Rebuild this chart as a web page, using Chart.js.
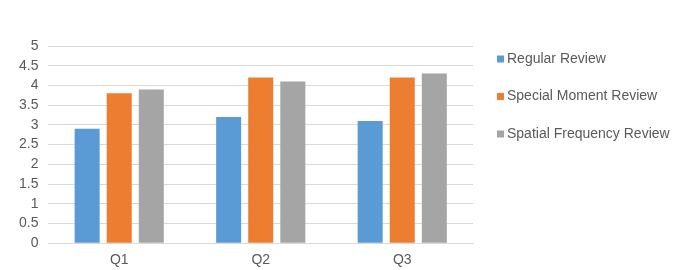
<!DOCTYPE html>
<html>
<head>
<meta charset="utf-8">
<script src="https://cdn.jsdelivr.net/npm/chart.js@4/dist/chart.umd.min.js"></script>
<style>
  html, body { margin: 0; padding: 0; background: #fff; }
  #wrap { width: 687px; height: 270px; }
</style>
</head>
<body>
<div id="wrap"><canvas id="myChart" width="687" height="270"></canvas></div>
<script>
const categories = ['Q1', 'Q2', 'Q3'];
const seriesNames = ['Regular Review', 'Special Moment Review', 'Spatial Frequency Review'];
const regularReview = [2.9, 3.2, 3.1];
const specialMomentReview = [3.8, 4.2, 4.2];
const spatialFrequencyReview = [3.9, 4.1, 4.3];
const seriesColors = ['#5B9BD5', '#ED7D31', '#A5A5A5'];

const textColor = '#595959';
const gridColor = '#D9D9D9';
const fontFamily = "'Liberation Sans', 'DejaVu Sans', sans-serif";
const fontSize = 14;

const ctx = document.getElementById('myChart').getContext('2d');

const allValues = [regularReview, specialMomentReview, spatialFrequencyReview];
const datasets = seriesNames.map((name, i) => ({
    label: name,
    data: allValues[i],
    backgroundColor: seriesColors[i],
    borderWidth: 0,
    categoryPercentage: 0.68,
    barPercentage: 0.78
}));

// legend drawn to the right of the plot, Excel style
const sideLegend = {
    id: 'sideLegend',
    afterDraw(chart) {
        const c = chart.ctx;
        const area = chart.chartArea;
        const x = area.right + 24;
        const firstY = 59;
        const step = 37.5;
        c.save();
        c.font = fontSize + 'px ' + fontFamily;
        c.textBaseline = 'middle';
        c.textAlign = 'left';
        chart.data.datasets.forEach((ds, i) => {
            const y = firstY + i * step;
            c.fillStyle = ds.backgroundColor;
            c.fillRect(x, y - 3.5, 7, 7);
            c.fillStyle = textColor;
            c.fillText(ds.label, x + 10, y);
        });
        c.restore();
    }
};

const myChart = new Chart(ctx, {
    type: 'bar',
    data: {
        labels: categories,
        datasets: datasets
    },
    options: {
        responsive: false,
        animation: false,
        layout: {
            padding: { left: 9, top: 46, right: 214, bottom: -8 }
        },
        plugins: {
            legend: { display: false },
            tooltip: { enabled: false }
        },
        scales: {
            x: {
                grid: { display: false, drawTicks: false },
                border: { color: gridColor },
                ticks: {
                    color: textColor,
                    padding: 9,
                    font: { family: fontFamily, size: fontSize }
                }
            },
            y: {
                min: 0,
                max: 5,
                ticks: {
                    stepSize: 0.5,
                    autoSkip: false,
                    color: textColor,
                    padding: 10,
                    font: { family: fontFamily, size: fontSize },
                    callback: (v) => String(Math.round(v * 10) / 10)
                },
                grid: { color: gridColor, drawTicks: false },
                border: { display: false }
            }
        }
    },
    plugins: [sideLegend]
});
</script>
</body>
</html>
